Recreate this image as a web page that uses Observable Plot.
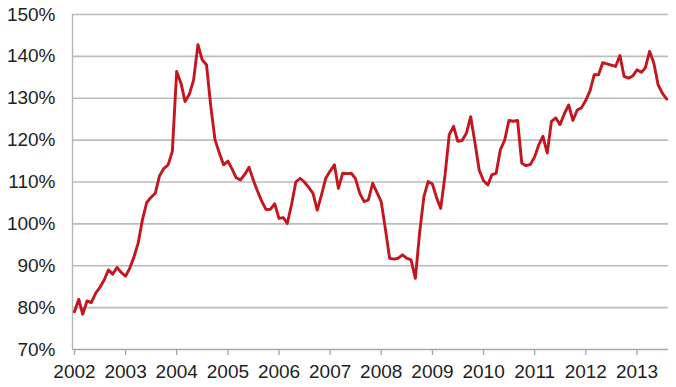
<!DOCTYPE html>
<html><head><meta charset="utf-8">
<script src="https://cdn.jsdelivr.net/npm/d3@7"></script>
<script src="https://cdn.jsdelivr.net/npm/@observablehq/plot@0.6"></script>
<style>body{margin:0;background:#fff}#chart svg{display:block}</style>
</head><body><div id="chart"></div>
<script>
// Monthly values (%), one array per year, starting January 2002
const v2002 = [79.0, 82.0, 78.4, 81.6, 81.2, 83.4, 84.8, 86.6, 89.0, 88.0, 89.6, 88.4];
const v2003 = [87.5, 89.5, 92.0, 95.4, 100.9, 105.1, 106.3, 107.3, 111.5, 113.2, 114.1, 117.3];
const v2004 = [136.4, 133.6, 129.2, 131.0, 134.4, 142.8, 139.2, 138.0, 128.0, 120.1, 116.9, 114.1];
const v2005 = [115.0, 113.0, 111.0, 110.5, 111.8, 113.5, 110.5, 107.8, 105.3, 103.4, 103.5, 104.8];
const v2006 = [101.3, 101.5, 100.1, 104.7, 110.0, 110.9, 110.0, 108.7, 107.3, 103.3, 107.0, 110.9];
const v2007 = [112.6, 114.1, 108.5, 112.1, 112.0, 112.1, 110.8, 107.3, 105.3, 105.7, 109.7, 107.5];
const v2008 = [105.3, 98.5, 91.8, 91.6, 91.8, 92.6, 91.8, 91.4, 87.0, 97.8, 106.5, 110.1];
const v2009 = [109.5, 106.1, 103.7, 111.7, 121.3, 123.3, 119.7, 119.9, 121.7, 125.6, 119.3, 112.8];
const v2010 = [110.3, 109.3, 111.7, 112.1, 117.7, 120.0, 124.7, 124.5, 124.7, 114.5, 113.9, 114.2];
const v2011 = [116.0, 119.0, 120.9, 116.9, 124.5, 125.3, 123.7, 126.3, 128.4, 124.7, 127.2, 127.7];
const v2012 = [129.5, 131.8, 135.6, 135.6, 138.5, 138.2, 137.9, 137.6, 140.2, 135.2, 134.8, 135.3];
const v2013 = [136.8, 136.2, 137.2, 141.2, 138.4, 133.2, 131.2, 129.8];

const yearlyValues = [v2002, v2003, v2004, v2005, v2006, v2007, v2008, v2009, v2010, v2011, v2012, v2013];
const years = [2002, 2003, 2004, 2005, 2006, 2007, 2008, 2009, 2010, 2011, 2012, 2013];
const yTicks = [70, 80, 90, 100, 110, 120, 130, 140, 150];

const data = [];
yearlyValues.forEach((arr, yi) => {
  arr.forEach((v, mi) => data.push({date: new Date(Date.UTC(years[yi], mi, 15)), value: v}));
});
const yearDates = years.map(y => new Date(Date.UTC(y, 0, 1)));
const xStart = new Date(Date.UTC(2002, 0, 1));
const xEnd = new Date(Date.UTC(2013, 7, 28));

const chart = Plot.plot({
  width: 676,
  height: 387,
  marginLeft: 72,
  marginRight: 8,
  marginTop: 14,
  marginBottom: 38,
  style: {fontFamily: "'Liberation Sans', Arial, sans-serif", fontSize: "19px", color: "#1e1e1e", background: "#fff"},
  x: {type: "utc", domain: [xStart, xEnd]},
  y: {domain: [70, 150]},
  marks: [
    Plot.gridY(yTicks.filter(d => d > 70), {stroke: "#bcbcbc", strokeOpacity: 1, strokeWidth: 1.6}),
    Plot.ruleY([70], {stroke: "#a9a9a9", strokeWidth: 1.4}),
    Plot.ruleX([xStart], {y1: 70, y2: 150, stroke: "#b5b5b5", strokeWidth: 1.4}),
    Plot.axisY({ticks: yTicks, tickSize: 0, tickPadding: 17, tickFormat: d => d + "%", fontSize: 19, label: null}),
    Plot.axisX({ticks: yearDates, tickSize: 6, tickPadding: 9, tickFormat: d => String(d.getUTCFullYear()), stroke: "#a9a9a9", strokeWidth: 1.4, fontSize: 19, label: null, dx: 2}),
    Plot.lineY(data, {x: "date", y: "value", stroke: "#c4161f", strokeWidth: 2.9, strokeLinejoin: "round"})
  ]
});
document.getElementById("chart").appendChild(chart);
</script>
</body></html>
